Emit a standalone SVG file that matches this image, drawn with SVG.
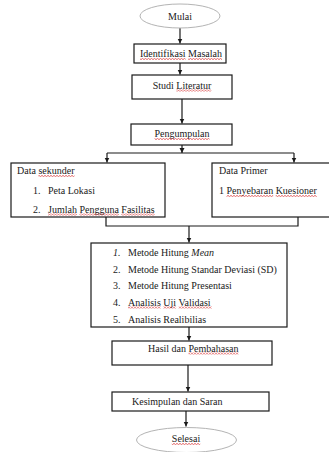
<svg xmlns="http://www.w3.org/2000/svg" width="329" height="452" viewBox="0 0 329 452">
<style>
.bg{fill:#fff}
.box{fill:#fff;stroke:#1a1a1a;stroke-width:1.2}
.term{fill:#fff;stroke:#b4b4b4;stroke-width:1}
.t{font-family:"Liberation Serif","Times New Roman",serif;font-size:10px;fill:#1a1a1a}
.c{text-anchor:middle}
.i{font-style:italic}
.sq{fill:url(#wave)}
.ln{fill:none;stroke:#1a1a1a;stroke-width:1.2}
</style>
<defs>
<marker id="ah" markerUnits="userSpaceOnUse" markerWidth="6" markerHeight="6" refX="5" refY="3" orient="auto">
<path d="M0,0.5 L5,3 L0,5.5 z" fill="#1a1a1a"/>
</marker>
<pattern id="wave" patternUnits="userSpaceOnUse" x="0" y="0" width="3" height="2">
<path d="M0,1.6 L1.5,0.4 L3,1.6" fill="none" stroke="#d42020" stroke-width="0.7"/>
</pattern>
</defs>
<rect class="bg" x="0" y="0" width="329" height="452"/>
<g id="connectors">
<path class="ln" d="M180,28 V43.5" marker-end="url(#ah)"/>
<path class="ln" d="M180,63 V74.5" marker-end="url(#ah)"/>
<path class="ln" d="M182,99 V123.5" marker-end="url(#ah)"/>
<path class="ln" d="M182,145 V153" marker-end="url(#ah)"/>
<path class="ln" d="M107,153 H294"/>
<path class="ln" d="M107,153 V162.5" marker-end="url(#ah)"/>
<path class="ln" d="M294,153 V162.5" marker-end="url(#ah)"/>
<path class="ln" d="M106,217 V226 H298 V217"/>
<path class="ln" d="M189,226 V242.5" marker-end="url(#ah)"/>
<path class="ln" d="M189,327 V340.5" marker-end="url(#ah)"/>
<path class="ln" d="M188,365 V391.5" marker-end="url(#ah)"/>
<path class="ln" d="M186,411 V426.5" marker-end="url(#ah)"/>
</g>
<g id="mulai">
<ellipse class="term" cx="180" cy="16" rx="40" ry="12"/>
<text class="t c" x="180" y="19.5">Mulai</text>
</g>
<g id="identifikasi">
<rect class="box" x="134" y="44" width="92" height="19"/>
<text class="t c" x="181" y="57">Identifikasi Masalah</text>
<rect class="sq" x="140" y="58" width="45.6" height="2"/>
<rect class="sq" x="188.1" y="58" width="33.9" height="2"/>
</g>
<g id="studi">
<rect class="box" x="132" y="75" width="100" height="24"/>
<text class="t c" x="182" y="88.5">Studi Literatur</text>
<rect class="sq" x="176.3" y="89.5" width="35" height="2"/>
</g>
<g id="pengumpulan">
<rect class="box" x="131" y="124" width="101" height="21"/>
<text class="t c" x="182" y="137">Pengumpulan</text>
<rect class="sq" x="154.5" y="138" width="55" height="2"/>
</g>
<g id="data-sekunder">
<rect class="box" x="11" y="163" width="154" height="54"/>
<text class="t" x="17" y="174">Data sekunder</text>
<rect class="sq" x="38.4" y="175" width="36.1" height="2"/>
<text class="t" x="33" y="194">1.</text>
<text class="t" x="48" y="194">Peta Lokasi</text>
<text class="t" x="33" y="212.5">2.</text>
<text class="t" x="48" y="212.5">Jumlah Pengguna Fasilitas</text>
<rect class="sq" x="48" y="213.5" width="28.9" height="2"/>
<rect class="sq" x="79.4" y="213.5" width="39.4" height="2"/>
<rect class="sq" x="121.3" y="213.5" width="33.3" height="2"/>
</g>
<g id="data-primer">
<rect class="box" x="212" y="163" width="130" height="54"/>
<text class="t" x="219" y="174">Data Primer</text>
<text class="t" x="219" y="194">1 Penyebaran Kuesioner</text>
<rect class="sq" x="226.5" y="195" width="46.7" height="2"/>
<rect class="sq" x="275.7" y="195" width="41.1" height="2"/>
</g>
<g id="metode">
<rect class="box" x="91" y="243" width="196" height="84"/>
<text class="t i" x="113" y="256">1.</text>
<text class="t" x="128" y="256">Metode Hitung <tspan class="i">Mean</tspan></text>
<text class="t" x="113" y="272.5">2.</text>
<text class="t" x="128" y="272.5">Metode Hitung Standar Deviasi (SD)</text>
<text class="t" x="113" y="288.5">3.</text>
<text class="t" x="128" y="288.5">Metode Hitung Presentasi</text>
<text class="t" x="113" y="305.5">4.</text>
<text class="t" x="128" y="305.5">Analisis Uji Validasi</text>
<rect class="sq" x="128" y="306.5" width="32.8" height="2"/>
<rect class="sq" x="163.3" y="306.5" width="12.8" height="2"/>
<rect class="sq" x="178.6" y="306.5" width="33.3" height="2"/>
<text class="t" x="113" y="322.5">5.</text>
<text class="t" x="128" y="322.5">Analisis Realibilias</text>
</g>
<g id="hasil">
<rect class="box" x="112" y="341" width="160" height="24"/>
<text class="t" x="148" y="351.5">Hasil dan Pembahasan</text>
<rect class="sq" x="188.5" y="352.5" width="50" height="2"/>
</g>
<g id="kesimpulan">
<rect class="box" x="112" y="392" width="157" height="19"/>
<text class="t" x="132" y="405">Kesimpulan dan Saran</text>
</g>
<g id="selesai">
<ellipse class="term" cx="186.5" cy="440" rx="50" ry="12.5"/>
<text class="t c" x="186" y="442">Selesai</text>
<rect class="sq" x="171.8" y="443" width="28.4" height="2"/>
</g>
</svg>
